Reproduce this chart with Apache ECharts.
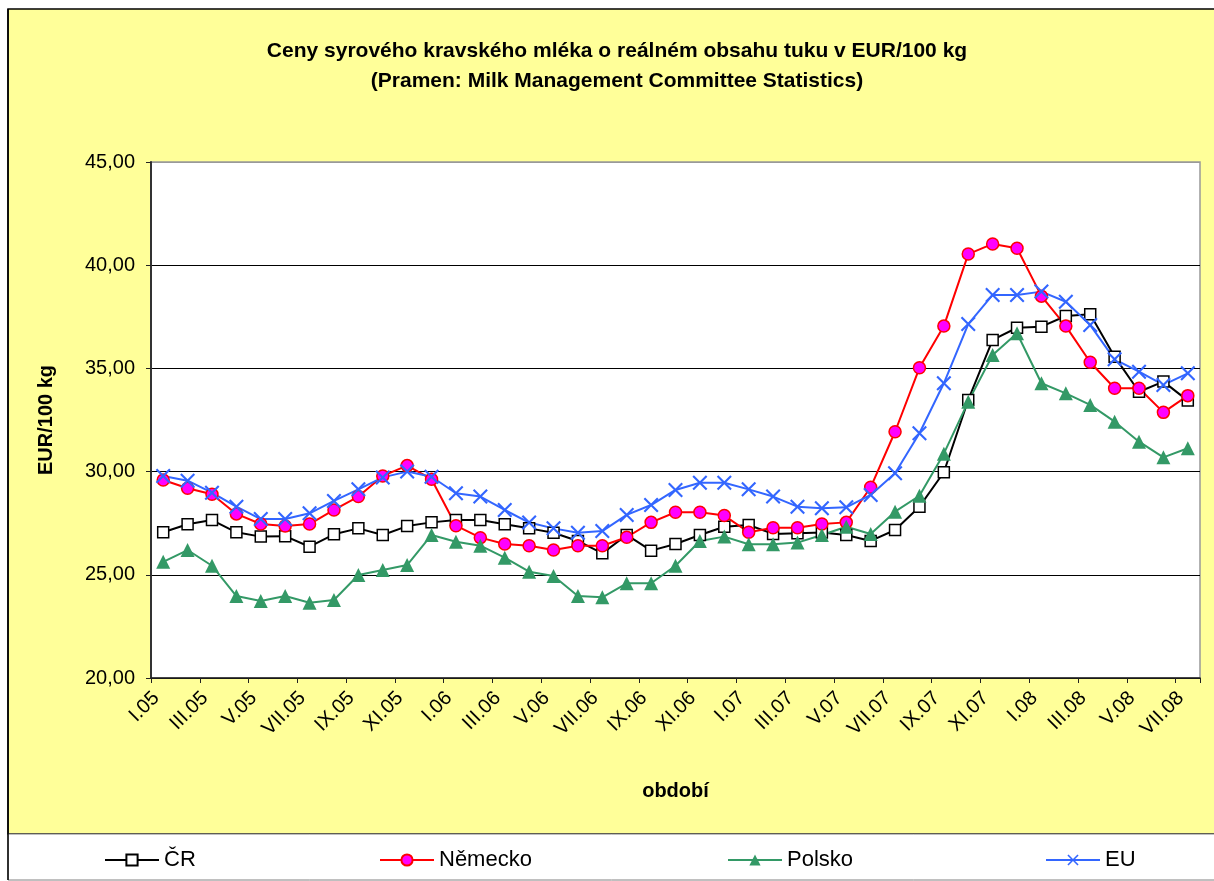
<!DOCTYPE html>
<html>
<head>
<meta charset="utf-8">
<script src="https://cdn.jsdelivr.net/npm/echarts@6/dist/echarts.min.js"></script>
<style>
html,body{margin:0;padding:0;background:#fff;}
#c{width:1214px;height:881px;}
</style>
</head>
<body>
<div id="c"></div>
<script>
var months = ['I.05','II.05','III.05','IV.05','V.05','VI.05','VII.05','VIII.05','IX.05','X.05','XI.05','XII.05',
  'I.06','II.06','III.06','IV.06','V.06','VI.06','VII.06','VIII.06','IX.06','X.06','XI.06','XII.06',
  'I.07','II.07','III.07','IV.07','V.07','VI.07','VII.07','VIII.07','IX.07','X.07','XI.07','XII.07',
  'I.08','II.08','III.08','IV.08','V.08','VI.08','VII.08'];

var cr = [27.06,27.45,27.65,27.06,26.85,26.87,26.36,26.96,27.25,26.93,27.36,27.54,
  27.65,27.65,27.45,27.25,27.04,26.64,26.04,26.93,26.17,26.49,26.93,27.33,
  27.41,26.98,27.01,27.05,26.93,26.64,27.17,28.30,29.97,33.47,36.38,36.97,
  37.02,37.54,37.62,35.57,33.87,34.36,33.44];

var nemecko = [29.59,29.19,28.90,27.95,27.46,27.36,27.46,28.14,28.79,29.79,30.29,29.63,
  27.38,26.80,26.49,26.41,26.20,26.41,26.41,26.82,27.54,28.03,28.03,27.87,
  27.06,27.28,27.28,27.46,27.54,29.24,31.93,35.03,37.05,40.54,41.03,40.82,
  38.50,37.05,35.30,34.04,34.04,32.87,33.68];

var polsko = [25.63,26.20,25.44,23.97,23.73,23.97,23.65,23.78,24.99,25.23,25.47,26.93,
  26.60,26.41,25.83,25.15,24.94,23.97,23.91,24.59,24.59,25.44,26.64,26.85,
  26.48,26.48,26.56,26.93,27.33,26.98,28.06,28.83,30.87,33.39,35.65,36.70,
  34.28,33.79,33.23,32.42,31.45,30.69,31.13];

var eu = [29.79,29.56,28.98,28.30,27.70,27.70,27.98,28.58,29.14,29.72,30.00,29.75,
  28.95,28.79,28.14,27.53,27.25,27.04,27.12,27.90,28.38,29.11,29.46,29.46,
  29.14,28.79,28.30,28.22,28.27,28.87,29.92,31.86,34.28,37.15,38.56,38.56,
  38.72,38.23,37.10,35.44,34.84,34.20,34.76];

var seriesNames = ['ČR','Německo','Polsko','EU'];
var titleText = 'Ceny syrového kravského mléka o reálném obsahu tuku v EUR/100 kg\n(Pramen: Milk Management Committee Statistics)';
var yName = 'EUR/100 kg';
var xName = 'období';

var FONT = 'Arial, "Liberation Sans", sans-serif';
var xSymbol = 'path://M0,1L1,0L5,4L9,0L10,1L6,5L10,9L9,10L5,6L1,10L0,9L4,5Z';

var chart = echarts.init(document.getElementById('c'), null, {renderer:'canvas'});
var legendLefts = [99, 374, 722, 1040];

chart.setOption({
  animation: false,
  textStyle: {fontFamily: FONT},
  graphic: [
    {type:'rect', z:-100, shape:{x:8, y:9, width:1230, height:825},
      style:{fill:'#FFFF99', stroke:'#000', lineWidth:1.5}},
    {type:'rect', z:-100, shape:{x:8, y:834, width:1230, height:46},
      style:{fill:'#fff', stroke:'#808080', lineWidth:1}},
    {type:'line', z:-99, shape:{x1:8, y1:9, x2:8, y2:880}, style:{stroke:'#000', lineWidth:1.5}}
  ],
  title: {
    text: titleText,
    left: 612, top: 31, textAlign: 'center',
    textStyle: {fontFamily: FONT, fontSize: 21, fontWeight: 'bold', color: '#000', lineHeight: 30}
  },
  legend: seriesNames.map(function(n, i){
    return {data:[n], left: legendLefts[i], top: 844, itemWidth: 54, itemHeight: 14, itemGap: 7,
      textStyle:{fontFamily: FONT, fontSize: 22, color:'#000'}, selectedMode:false};
  }),
  grid: {left:151, right:14, top:162, bottom:203, show:true, backgroundColor:'#fff', borderColor:'#999', borderWidth:1.5},
  xAxis: {
    type:'category', data: months, boundaryGap:true,
    axisLine:{show:true, lineStyle:{color:'#222', width:1.5}},
    axisTick:{show:true, interval:1, length:5, lineStyle:{color:'#222', width:1}},
    axisLabel:{interval:1, rotate:45, fontSize:20, color:'#000', margin:10, padding:[0,10,0,0]},
    splitLine:{show:false},
    name: xName, nameLocation:'middle', nameGap:103,
    nameTextStyle:{fontFamily: FONT, fontSize:20, fontWeight:'bold', color:'#000'}
  },
  yAxis: {
    type:'value', min:20, max:45, interval:5,
    axisLine:{show:true, lineStyle:{color:'#333', width:2}},
    axisTick:{show:true, length:5, lineStyle:{color:'#222', width:1}},
    axisLabel:{fontSize:20, color:'#000', margin:16,
      formatter:function(v){return v.toFixed(2).replace('.', ',');}},
    splitLine:{show:true, lineStyle:{color:['#000','#000','#000','#000','#000','#999'], width:1.2}},
    name: yName, nameLocation:'middle', nameGap:95, nameRotate:90,
    nameTextStyle:{fontFamily: FONT, fontSize:20, fontWeight:'bold', color:'#000'}
  },
  series: [
    {name:seriesNames[0], type:'line', data:cr, showAllSymbol:true,
      symbol:'rect', symbolSize:11,
      lineStyle:{color:'#000', width:2},
      itemStyle:{color:'#fff', borderColor:'#000', borderWidth:1.5}},
    {name:seriesNames[1], type:'line', data:nemecko, showAllSymbol:true,
      symbol:'circle', symbolSize:12,
      lineStyle:{color:'#FF0000', width:2},
      itemStyle:{color:'#FF00FF', borderColor:'#FF0000', borderWidth:1.5}},
    {name:seriesNames[2], type:'line', data:polsko, showAllSymbol:true,
      symbol:'triangle', symbolSize:14,
      lineStyle:{color:'#339966', width:2},
      itemStyle:{color:'#339966', borderColor:'#339966', borderWidth:0}},
    {name:seriesNames[3], type:'line', data:eu, showAllSymbol:true,
      symbol:xSymbol, symbolSize:15,
      lineStyle:{color:'#3366FF', width:2},
      itemStyle:{color:'#3366FF', borderColor:'#3366FF', borderWidth:0}}
  ]
});
</script>
</body>
</html>
